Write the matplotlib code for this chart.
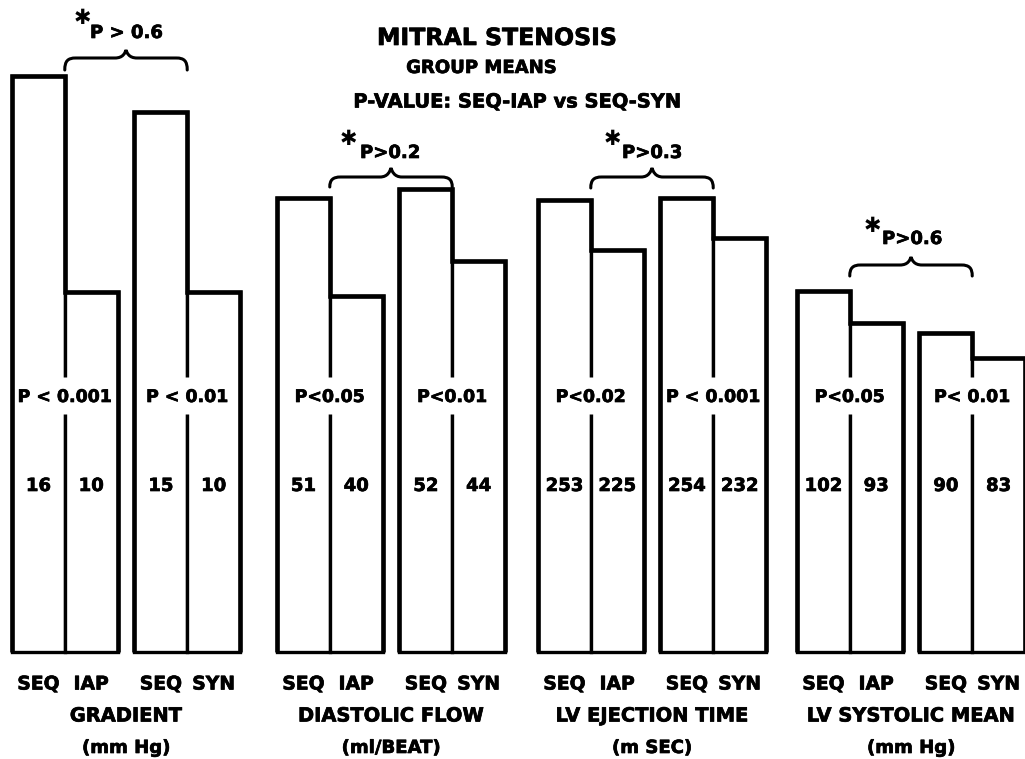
#!/usr/bin/env python3
# -*- coding: utf-8 -*-
"""
Mitral stenosis group means: SEQ vs IAP and SEQ vs SYN, four measures,
each panel on its own vertical scale (hand-drawn style bar chart).
"""
import matplotlib
matplotlib.use("Agg")
import matplotlib.pyplot as plt
import matplotlib.patheffects as pe
from matplotlib.path import Path
from matplotlib.patches import PathPatch

# ---- data -----------------------------------------------------------------
bar_labels = ["SEQ", "IAP", "SEQ", "SYN"]
measures = ["GRADIENT", "DIASTOLIC FLOW", "LV EJECTION TIME", "LV SYSTOLIC MEAN"]
units = ["(mm Hg)", "(ml/BEAT)", "(m SEC)", "(mm Hg)"]

gradient = [16, 10, 15, 10]
diastolic_flow = [51, 40, 52, 44]
ejection_time = [253, 225, 254, 232]
systolic_mean = [102, 93, 90, 83]

p_within = [["P < 0.001", "P < 0.01"],
            ["P<0.05", "P<0.01"],
            ["P<0.02", "P < 0.001"],
            ["P<0.05", "P< 0.01"]]
p_between = ["P > 0.6", "P>0.2", "P>0.3", "P>0.6"]

# ---- layout (pixels on a 1025 x 759 canvas) --------------------------------
W, H = 1025, 759
BASE = 652                        # bar baseline, px from top
PANEL_LEFT = [12, 277, 538, 797]  # left edge of each panel
PANEL_W = 228
YMAX = [18.1, 73.3, 365.0, 184.2]  # per-panel scale (px height 652)
GAP = 0.32                        # gap between the two pairs (bar widths)
LEFTS = [0, 1, 1 + 1 + GAP, 2 + 1 + GAP]
XMAX = 4 + GAP
BRACE_Y = [(70, 58, 50), (187, 177, 168), (188, 177, 168), (276, 265, 257)]
STAR_XY = [(82, 18), (348, 139), (612, 139), (872, 226)]
PTXT_XY = [(90, 33), (360, 153), (622, 153), (882, 239)]

plt.rcParams["font.family"] = "DejaVu Sans"
HEAVY = [pe.withStroke(linewidth=0.5, foreground="black")]

series = [gradient, diastolic_flow, ejection_time, systolic_mean]

fig = plt.figure(figsize=(W / 100, H / 100), dpi=100)
ov = fig.add_axes([0, 0, 1, 1])
ov.set_xlim(0, W)
ov.set_ylim(H, 0)
ov.axis("off")
ov.set_zorder(5)
ov.patch.set_alpha(0)


def label(x, y, s, size, ha="center"):
    ov.text(x, y, s, ha=ha, va="center", fontsize=size, fontweight="bold",
            path_effects=HEAVY)


def brace(x0, x1, yb, yf, yt, r=11):
    xm = (x0 + x1) / 2.0
    verts = [(x0, yb),
             (x0, yf + 3), (x0 + 3, yf), (x0 + r, yf),
             (xm - r, yf),
             (xm - 3, yf), (xm - 1, yt + 3), (xm, yt),
             (xm + 1, yt + 3), (xm + 3, yf), (xm + r, yf),
             (x1 - r, yf),
             (x1 - 3, yf), (x1, yf + 3), (x1, yb)]
    codes = [Path.MOVETO,
             Path.CURVE4, Path.CURVE4, Path.CURVE4,
             Path.LINETO,
             Path.CURVE4, Path.CURVE4, Path.CURVE4,
             Path.CURVE4, Path.CURVE4, Path.CURVE4,
             Path.LINETO,
             Path.CURVE4, Path.CURVE4, Path.CURVE4]
    ov.add_patch(PathPatch(Path(verts, codes), fill=False, lw=2.2,
                           edgecolor="black", capstyle="round"))


for g, vals in enumerate(series):
    L = PANEL_LEFT[g]
    ax = fig.add_axes([L / W, (H - BASE) / H, PANEL_W / W, BASE / H])
    ax.set_xlim(0, XMAX)
    ax.set_ylim(0, YMAX[g])
    ax.axis("off")
    ax.bar(LEFTS, vals, width=1, align="edge", facecolor="white",
           edgecolor="black", linewidth=2.4, clip_on=False)
    # heavier outer outline for each pair
    for k in (0, 2):
        ax.stairs(vals[k:k + 2], [LEFTS[k], LEFTS[k] + 1, LEFTS[k] + 2],
                  baseline=0, color="black", lw=3.3, clip_on=False)

    u = PANEL_W / XMAX
    for k in range(4):
        cx = L + (LEFTS[k] + 0.5) * u
        label(cx, 486, str(vals[k]), 13)
        label(cx, 684, bar_labels[k], 13.5)
    for j, k in enumerate((0, 2)):
        dx = L + (LEFTS[k] + 1) * u
        # break in the divider for the p-value
        ov.plot([dx, dx], [377, 414], color="white", lw=5, solid_capstyle="butt")
        label(dx, 397, p_within[g][j], 12.5)

    gx = L + XMAX * u / 2
    label(gx, 716, measures[g], 14)
    label(gx, 748, units[g], 13)

    bx0 = L + 1 * u
    bx1 = L + (LEFTS[2] + 1) * u
    brace(bx0, bx1, *BRACE_Y[g])
    ov.text(*STAR_XY[g], "\u2731", ha="center", va="center",
            fontsize=15, fontweight="bold")
    label(*PTXT_XY[g], p_between[g], 13, ha="left")

label(497, 38, "MITRAL STENOSIS", 17)
label(481, 68, "GROUP MEANS", 13)
label(517, 102, "P-VALUE: SEQ-IAP vs SEQ-SYN", 14)

fig.savefig("out.png", dpi=100)
plt.close(fig)
